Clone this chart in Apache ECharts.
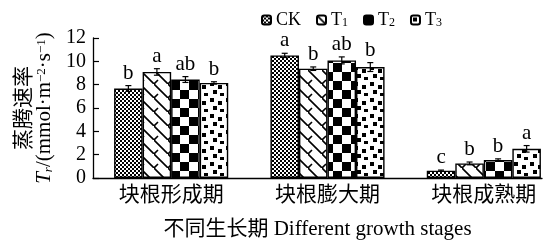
<!DOCTYPE html>
<html>
<head>
<meta charset="utf-8">
<script src="https://cdn.jsdelivr.net/npm/echarts/dist/echarts.min.js"></script>
<style>
    html, body { margin: 0; padding: 0; background: #fff; }
    #main { width: 549px; height: 240px; }
</style>
</head>
<body>
<div id="main"></div>
<script>
// 生长期
var stages = ['块根形成期', '块根膨大期', '块根成熟期'];
var seriesNames = ['CK', 'T1', 'T2', 'T3'];
// 蒸腾速率均值
var ckValues = [7.67, 10.51, 0.63];
var t1Values = [9.09, 9.37, 1.25];
var t2Values = [8.44, 10.08, 1.54];
var t3Values = [8.15, 9.51, 2.50];
// 误差
var ckErrors = [0.25, 0.18, 0.05];
var t1Errors = [0.28, 0.15, 0.12];
var t2Errors = [0.25, 0.3, 0.1];
var t3Errors = [0.1, 0.38, 0.28];
// 显著性字母
var ckLetters = ['b', 'a', 'c'];
var t1Letters = ['a', 'b', 'b'];
var t2Letters = ['ab', 'ab', 'b'];
var t3Letters = ['b', 'b', 'a'];
var yTicks = [0, 2, 4, 6, 8, 10, 12];

var serif = 'Liberation Serif, Noto Sans CJK SC';

function makePattern(type) {
    var c = document.createElement('canvas');
    var ctx = c.getContext('2d');
    var s;
    if (type == 'CK') {
        s = 4;
        c.width = s; c.height = s;
        ctx.fillStyle = '#fff'; ctx.fillRect(0, 0, s, s);
        ctx.fillStyle = '#000';
        ctx.fillRect(0, 0, 2, 2); ctx.fillRect(2, 2, 2, 2);
    } else if (type == 'T1') {
        s = 14;
        c.width = s; c.height = s;
        ctx.fillStyle = '#fff'; ctx.fillRect(0, 0, s, s);
        ctx.strokeStyle = '#000'; ctx.lineWidth = 1.6;
        ctx.beginPath();
        ctx.moveTo(-1, -1); ctx.lineTo(s + 1, s + 1);
        ctx.moveTo(0, s); ctx.lineTo(4, s - 4);
        ctx.stroke();
    } else if (type == 'T2') {
        s = 18;
        c.width = s; c.height = s;
        ctx.fillStyle = '#fff'; ctx.fillRect(0, 0, s, s);
        ctx.fillStyle = '#000';
        ctx.fillRect(0, 0, 9, 9); ctx.fillRect(9, 9, 9, 9);
    } else {
        s = 16;
        c.width = s; c.height = s;
        ctx.fillStyle = '#fff'; ctx.fillRect(0, 0, s, s);
        ctx.fillStyle = '#000';
        ctx.fillRect(2, 2, 4, 4); ctx.fillRect(10, 5, 4, 4);
        ctx.fillRect(5, 10, 4, 4); ctx.fillRect(12, 13, 4, 3);
    }
    return {image: c, repeat: 'repeat'};
}

var allValues = [ckValues, t1Values, t2Values, t3Values];
var allErrors = [ckErrors, t1Errors, t2Errors, t3Errors];
var allLetters = [ckLetters, t1Letters, t2Letters, t3Letters];

var barSeries = [];
for (var k = 0; k < 4; k++) {
    barSeries.push({
        name: seriesNames[k],
        type: 'bar',
        barGap: 0,
        barCategoryGap: '27%',
        data: allValues[k],
        itemStyle: {color: makePattern(seriesNames[k]), borderColor: '#000', borderWidth: 1.4},
        emphasis: {disabled: true}
    });
}

// 误差线和字母
var errData = [];
var errLetters = [];
for (var i = 0; i < stages.length; i++) {
    for (var k = 0; k < 4; k++) {
        errData.push([i, k, allValues[k][i], allErrors[k][i]]);
        errLetters.push(allLetters[k][i]);
    }
}

function renderErr(params, api) {
    var cat = api.value(0), k = api.value(1), v = api.value(2), e = api.value(3);
    var band = api.size([1, 0])[0];
    var bw = band * 0.73 / 4;
    var x = api.coord([cat, v])[0] + (k - 1.5) * bw;
    var top = api.coord([cat, v + e])[1];
    var bot = api.coord([cat, v - e])[1];
    var st = {stroke: '#000', lineWidth: 1.2};
    return {
        type: 'group',
        children: [
            {type: 'line', shape: {x1: x, y1: top, x2: x, y2: bot}, style: st},
            {type: 'line', shape: {x1: x - 3, y1: top, x2: x + 3, y2: top}, style: st},
            {type: 'line', shape: {x1: x - 3, y1: bot, x2: x + 3, y2: bot}, style: st},
            {type: 'text', x: x, y: top - 2, style: {
                text: errLetters[params.dataIndex], fill: '#000',
                font: '21px ' + serif, textAlign: 'center', textVerticalAlign: 'bottom'
            }}
        ]
    };
}

var myChart = echarts.init(document.getElementById('main'));
myChart.setOption({
    animation: false,
    textStyle: {fontFamily: serif, color: '#000'},
    legend: {
        left: 256,
        top: 6,
        itemWidth: 9,
        itemHeight: 9,
        itemGap: 15,
        data: seriesNames,
        formatter: function(name) {
            if (name == 'CK') return 'CK';
            return 'T{sub|' + name.substring(1) + '}';
        },
        textStyle: {
            fontFamily: serif, fontSize: 18, color: '#000',
            rich: {sub: {fontFamily: serif, fontSize: 12, verticalAlign: 'bottom', lineHeight: 10}}
        }
    },
    grid: [
        {left: 93, right: -13, top: 38, bottom: 62, outerBoundsMode: 'none'},
        {left: 93, right: 7, top: 38, bottom: 62, outerBoundsMode: 'none'}
    ],
    xAxis: [
        {
            type: 'category',
            data: stages,
            gridIndex: 0,
            axisLine: {show: false},
            axisTick: {show: false},
            axisLabel: {fontSize: 21, color: '#000', margin: 7, fontFamily: serif}
        },
        {
            // 只画横轴线和轴名
            type: 'value',
            gridIndex: 1,
            min: 0,
            max: 1,
            axisLine: {show: true, onZero: false, lineStyle: {color: '#000', width: 1.3}},
            axisTick: {show: false},
            axisLabel: {show: false},
            splitLine: {show: false},
            name: '不同生长期 Different growth stages',
            nameLocation: 'middle',
            nameGap: 41,
            nameTextStyle: {fontSize: 21, color: '#000', fontFamily: serif}
        }
    ],
    yAxis: [
        {
            type: 'value',
            gridIndex: 0,
            min: yTicks[0],
            max: yTicks[yTicks.length - 1],
            interval: 2,
            axisLine: {show: true, lineStyle: {color: '#000', width: 1.3}},
            axisTick: {show: true, inside: true, length: 6, lineStyle: {color: '#000', width: 1.2}},
            axisLabel: {fontSize: 20, color: '#000', margin: 7, fontFamily: serif},
            splitLine: {show: false},
            name: '{c|蒸腾速率}\n{i|T}{s|r}/(mmol·m{p|−2}·s{p|−1})',
            nameLocation: 'middle',
            nameGap: 36,
            nameTextStyle: {
                fontSize: 21, color: '#000', fontFamily: serif, lineHeight: 20,
                rich: {
                    c: {fontSize: 21, fontFamily: serif, lineHeight: 20},
                    i: {fontSize: 21, fontStyle: 'italic', fontFamily: serif},
                    s: {fontSize: 13, fontStyle: 'italic', fontFamily: serif, verticalAlign: 'bottom', lineHeight: 12},
                    p: {fontSize: 13, fontFamily: serif, verticalAlign: 'top', lineHeight: 12}
                }
            }
        },
        {type: 'value', gridIndex: 1, min: 0, max: 1, show: false}
    ],
    series: barSeries.concat([{
        type: 'custom',
        xAxisIndex: 0,
        yAxisIndex: 0,
        renderItem: renderErr,
        data: errData,
        z: 10,
        silent: true
    }])
});
</script>
</body>
</html>
